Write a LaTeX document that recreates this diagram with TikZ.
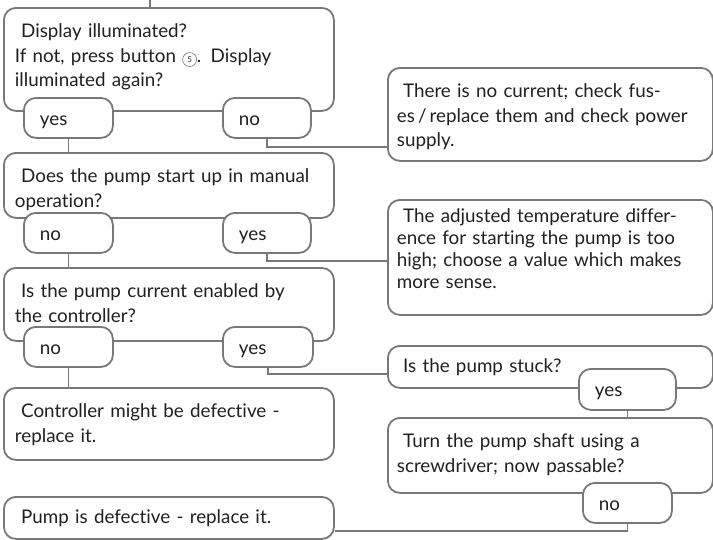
\documentclass[tikz,border=0pt]{standalone}
\usepackage{fontspec}
\setmainfont{Lato}[Ligatures=NoCommon]
\usepackage{tikz}
\usetikzlibrary{calc,positioning}
\usepackage{xcolor}
\definecolor{linegray}{RGB}{120,120,124}
\definecolor{textdark}{RGB}{35,31,32}
\newcommand{\btnnum}[1]{\tikz[baseline=(btn.base)]\node[circle, draw=linegray, line width=0.6pt, inner sep=0pt, minimum size=14pt, font=\fontsize{8}{8}\selectfont] (btn) {#1};}

\begin{document}
\begin{tikzpicture}[x=1pt, y=-1pt,
  every node/.style={font=\fontsize{18.8}{24.5}\selectfont, text=textdark},
  box/.style={draw=linegray, line width=1.8pt, rounded corners=12pt, anchor=north west, align=left, text width=308pt, inner xsep=11pt, inner ysep=3pt, text height=27pt},
  rbox/.style={box, text width=307pt, inner xsep=9pt},
  pill/.style={draw=linegray, line width=1.8pt, fill=white, rounded corners=12pt, anchor=north west, align=left, inner xsep=16pt, inner ysep=0pt, text height=28pt, text depth=12pt},
  link/.style={draw=linegray, line width=1.8pt}]
  \useasboundingbox (0,0) rectangle (713,539);

  % Left column of questions
  \node[box, text depth=70pt] (disp) at (3,7) {~Display illuminated?\\If not, press button \btnnum{5}. Display\\illuminated again?};
  \node[box, text depth=32pt] (manual) at (3,152) {~Does the pump start up in manual\\operation?};
  \node[box, text depth=40pt] (enabled) at (3,267) {~Is the pump current enabled by\\the controller?};
  \node[box, text depth=39pt] (ctrl) at (3,387) {~Controller might be defective -\\replace it.};
  \node[box, text height=24pt, text depth=12pt] (defect) at (3,496) {~Pump is defective - replace it.};

  % Right column
  \node[rbox, text depth=60pt] (nocurr) at (387,67) {~There is no current; check fus-\\es\,/\,replace them and check power\\supply.};
  \node[rbox, text height=20pt, text depth=89pt, font=\fontsize{18.8}{22}\selectfont] (tempdiff) at (387,199) {~The adjusted temperature differ-\\ence for starting the pump is too\\high; choose a value which makes\\more sense.};
  \node[rbox, text height=24pt, text depth=12pt] (stuck) at (387,345) {~Is the pump stuck?};
  \node[rbox, text depth=42pt] (shaft) at (387,417) {~Turn the pump shaft using a\\screwdriver; now passable?};

  % Answers
  \node[pill, text width=57pt] (dispyes) at (23,97) {yes};
  \node[pill, text width=56pt] (dispno) at (222,97) {no};
  \node[pill, text width=57pt] (manno) at (23,212) {no};
  \node[pill, text width=56pt] (manyes) at (222,212) {yes};
  \node[pill, text width=57pt] (enno) at (23,326) {no};
  \node[pill, text width=58pt] (enyes) at (222,326) {yes};
  \node[pill, text width=65pt, text depth=13pt] (stuckyes) at (578,368) {yes};
  \node[pill, text width=57pt] (shaftno) at (582,482) {no};

  % Connectors
  \coordinate (top) at (150,0);
  \draw[link] (top) -- (top |- disp.north);
  \draw[link] (dispyes.south) -- (dispyes.south |- manual.north);
  \draw[link] (dispno.south) |- ([yshift=15pt]nocurr.south west);
  \draw[link] (manno.south) -- (manno.south |- enabled.north);
  \draw[link] (manyes.south) |- ([yshift=55pt]tempdiff.south west);
  \draw[link] (enno.south) -- (enno.south |- ctrl.north);
  \draw[link] (enyes.south) |- ([yshift=15pt]stuck.south west);
  \draw[link] (stuckyes.south) -- (stuckyes.south |- shaft.north);
  \draw[link] (shaftno.south) |- ([yshift=9pt]defect.south east);
\end{tikzpicture}
\end{document}
